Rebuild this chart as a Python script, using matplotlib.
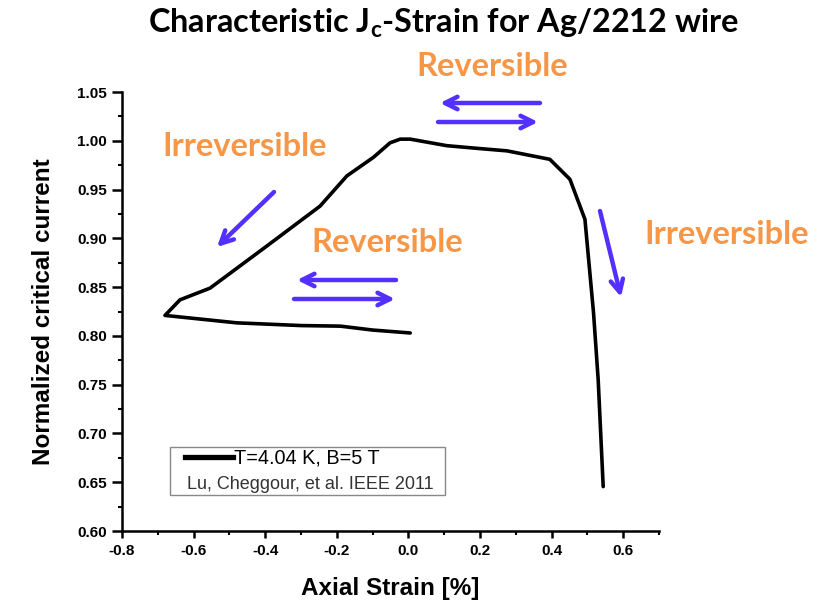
import matplotlib.pyplot as plt
from matplotlib.lines import Line2D
from matplotlib.patches import Rectangle
from matplotlib.ticker import MultipleLocator

# Normalized Ic vs axial strain, one continuous sweep
strain = [0.005, -0.10, -0.19, -0.30, -0.48, -0.68,
          -0.638, -0.554, -0.396, -0.247, -0.172, -0.098, -0.051, -0.023,
          0.005, 0.107, 0.20, 0.275, 0.395, 0.451, 0.493, 0.517, 0.53, 0.544]
ic_norm = [0.803, 0.806, 0.810, 0.8106, 0.8134, 0.821,
           0.837, 0.849, 0.892, 0.933, 0.964, 0.983, 0.998, 1.0017,
           1.0017, 0.995, 0.992, 0.9897, 0.981, 0.9606, 0.9195, 0.8237, 0.755, 0.6455]

orange = '#f79646'
blue = '#5330ff'

fig = plt.figure(figsize=(8.19, 6.05), dpi=100)
ax = fig.add_axes([0.149, 0.1223, 0.6557, 0.7256])

ax.plot(strain, ic_norm, color='black', lw=2.6, solid_capstyle='round', solid_joinstyle='round')

ax.set_xlim(-0.8, 0.7)
ax.set_ylim(0.60, 1.05)
ax.xaxis.set_major_locator(MultipleLocator(0.2))
ax.xaxis.set_minor_locator(MultipleLocator(0.1))
ax.yaxis.set_major_locator(MultipleLocator(0.05))
ax.yaxis.set_minor_locator(MultipleLocator(0.025))
ax.xaxis.set_major_formatter(plt.FuncFormatter(lambda v, p: f'{v:.1f}'))
ax.yaxis.set_major_formatter(plt.FuncFormatter(lambda v, p: f'{v:.2f}'))

for side in ['top', 'right']:
    ax.spines[side].set_visible(False)
for side in ['left', 'bottom']:
    ax.spines[side].set_linewidth(1.8)
ax.tick_params(which='major', direction='out', width=1.8, labelsize=11)
ax.tick_params(which='minor', direction='out', length=3, width=1.5)
ax.tick_params(axis='y', which='major', length=7, pad=4)
ax.tick_params(axis='x', which='major', length=5, pad=4)
for lbl in ax.get_xticklabels() + ax.get_yticklabels():
    lbl.set_fontfamily('Liberation Sans')
    lbl.set_fontweight('bold')

ax.set_xlabel('Axial Strain [%]', fontsize=17.5, fontweight='bold',
              family='Liberation Sans', labelpad=14)
ax.set_ylabel('Normalized critical current', fontsize=17.5, fontweight='bold',
              family='Liberation Sans', labelpad=16)

fig.text(0.541, 0.962, r'Characteristic J$_\mathregular{c}$-Strain for Ag/2212 wire',
         ha='center', va='center', fontsize=23.3, fontweight='bold', family='Lato')

# region labels
lbl_kw = dict(ha='center', va='center', fontsize=23.5, fontweight='bold',
              color=orange, family='Lato')
fig.text(492 / 819, 1 - 67 / 605, 'Reversible', **lbl_kw)
fig.text(245 / 819, 1 - 146 / 605, 'Irreversible', **lbl_kw)
fig.text(387 / 819, 1 - 243 / 605, 'Reversible', **lbl_kw)
fig.text(727 / 819, 1 - 235 / 605, 'Irreversible', **lbl_kw)

# direction arrows, in figure pixels
arrows = [((540, 103), (440, 103)), ((438, 122), (538, 122)),
          ((396, 280), (297, 280)), ((294, 299), (395, 299)),
          ((274, 192), (217, 247)), ((600, 211), (621, 297))]
for (x0, y0), (x1, y1) in arrows:
    ax.annotate('', xy=(x1, 605 - y1), xycoords='figure pixels',
                xytext=(x0, 605 - y0), textcoords='figure pixels',
                arrowprops=dict(arrowstyle='->,head_length=0.9,head_width=0.45',
                                color=blue, lw=3.2, shrinkA=0, shrinkB=0))

# legend box with citation
ax.add_patch(Rectangle((0.089, 0.082), 0.512, 0.109, transform=ax.transAxes,
                       fill=False, edgecolor='#888888', lw=1.0))
ax.legend(handles=[Line2D([], [], color='black', lw=3.8)],
          labels=['T=4.04 K, B=5 T'], loc='center left',
          bbox_to_anchor=(0.117, 0.166), frameon=False, handlelength=2.4,
          handletextpad=0.05, borderpad=0.0, borderaxespad=0.0,
          prop={'family': 'Liberation Sans', 'size': 14.3})
ax.text(0.121, 0.105, 'Lu, Cheggour, et al. IEEE 2011', transform=ax.transAxes,
        va='center', fontsize=13, family='Liberation Sans', color='#333333')

fig.savefig('out.png', dpi=100)
